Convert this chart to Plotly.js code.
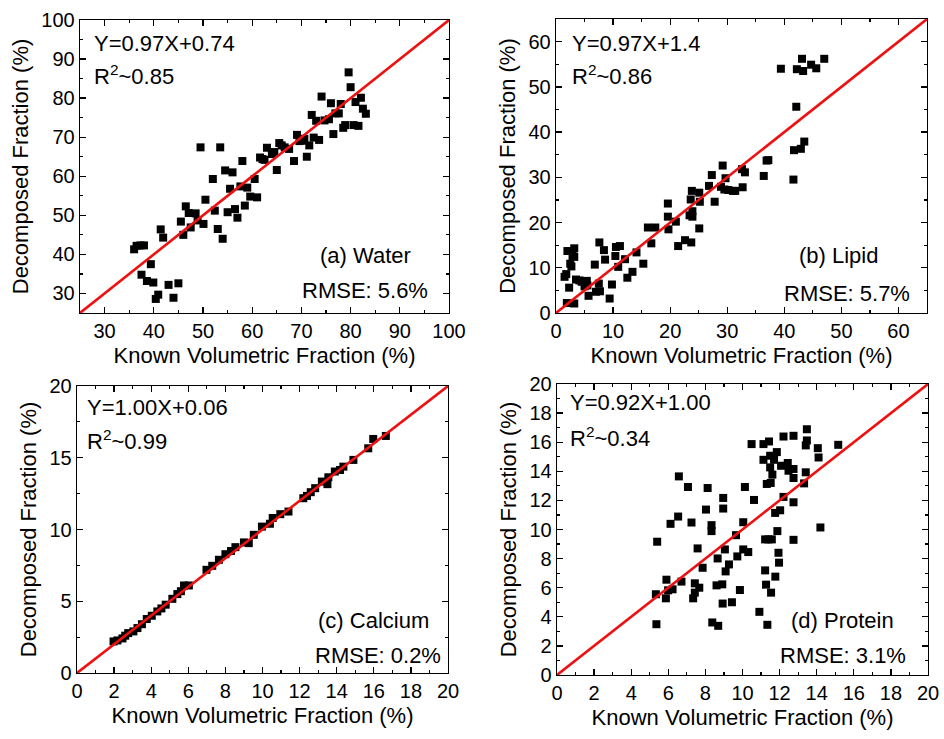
<!DOCTYPE html>
<html>
<head>
<meta charset="utf-8">
<script src="https://cdn.plot.ly/plotly-3.0.1.min.js"></script>
<style>html,body{margin:0;padding:0;background:#fff;}#chart{width:944px;height:739px;}</style>
</head>
<body>
<div id="chart"></div>
<script>
// ---------- DATA ----------
const waterKnown = [36.0,36.5,37.3,38.0,39.4,37.5,38.6,39.9,40.9,40.4,43.0,45.0,44.0,41.4,41.9,45.5,46.0,46.5,47.1,47.5,48.5,48.9,49.5,50.1,50.5,52.0,52.4,53.0,53.5,54.0,54.5,55.0,55.5,56.0,56.5,57.0,57.6,58.0,58.5,59.0,59.6,60.5,61.0,61.6,62.1,62.5,63.0,64.0,64.5,65.0,65.5,66.0,66.6,67.5,68.5,69.1,69.6,70.1,70.6,71.1,71.6,72.1,72.5,73.0,73.6,74.1,74.7,75.6,76.0,76.5,76.9,77.6,78.0,78.5,78.9,79.6,80.0,80.6,81.0,81.6,82.1,82.5,83.1];
const waterDecomp = [41.3,42.2,42.3,42.3,37.5,34.8,33.2,32.8,29.7,28.6,32.2,32.6,28.9,46.4,44.3,48.4,45.0,52.3,50.6,46.9,50.5,48.7,67.4,47.8,54.0,59.3,51.2,46.5,67.4,44.0,61.5,50.8,56.8,61.0,51.6,49.4,57.4,63.9,52.5,57.1,54.8,59.3,54.6,64.8,64.4,64.2,67.3,65.7,66.2,61.6,68.5,67.9,67.4,67.0,63.9,70.6,69.0,69.1,69.6,65.0,67.9,75.7,69.9,74.2,69.3,80.4,74.3,74.6,78.7,70.8,76.1,76.1,78.5,72.4,73.1,86.6,82.8,73.1,79.0,72.9,80.1,77.3,76.0];

const lipidKnown = [1.5,1.8,1.9,2.3,2.0,2.5,2.7,2.9,3.2,3.2,3.2,3.5,4.1,4.5,5.0,5.4,5.7,5.5,6.8,7.0,7.5,7.7,7.6,8.4,8.6,9.4,9.8,10.5,11.2,10.4,10.9,12.1,12.5,13.4,14.1,15.3,16.1,17.4,16.7,19.6,19.6,19.7,21.0,21.4,22.6,23.7,23.8,23.6,23.4,23.9,23.9,25.1,25.2,25.1,26.8,27.3,27.8,28.9,29.2,29.7,29.5,30.2,31.0,31.4,32.6,33.1,32.7,36.4,36.9,37.2,39.4,41.6,41.7,42.1,42.2,42.9,43.1,43.3,43.5,44.7,45.6,47.0];
const lipidDecomp = [8.0,8.6,2.2,5.6,13.7,10.9,10.3,12.6,14.3,12.4,2.1,7.4,7.2,6.9,5.9,7.1,3.8,6.1,10.7,4.7,6.5,4.8,15.6,13.9,11.8,3.2,6.3,14.6,14.8,12.6,10.2,11.9,7.8,9.1,13.4,10.9,18.9,18.9,15.4,24.2,21.3,18.5,20.2,14.8,16.1,15.6,27.0,25.1,21.6,21.3,22.5,26.6,24.6,18.7,28.1,30.5,24.6,27.9,32.6,29.8,27.3,27.2,27.0,27.0,31.8,31.1,27.8,30.3,33.7,33.8,54.0,29.5,36.0,45.6,53.9,36.3,56.2,53.5,37.9,54.9,54.1,56.2];

const calciumKnown = [1.97,2.18,2.45,2.6,2.76,3.04,3.26,3.5,3.76,4.03,4.33,4.55,4.78,5.14,5.41,5.6,5.77,6.03,6.98,7.29,7.65,8.0,8.3,8.54,9.0,9.26,9.53,9.97,10.4,10.55,10.96,11.4,12.2,12.4,12.6,12.84,13.2,13.5,13.55,13.9,14.18,14.36,14.9,15.7,15.97,16.65];
const calciumDecomp = [2.2,2.27,2.41,2.6,2.78,2.9,3.13,3.4,3.76,3.99,4.29,4.5,4.76,5.17,5.5,5.7,6.10,6.10,7.19,7.47,7.89,8.28,8.5,8.77,9.1,9.05,9.63,10.2,10.4,10.8,11.07,11.25,12.18,12.34,12.6,12.88,13.34,13.16,13.64,14.04,14.15,14.38,14.85,15.66,16.31,16.52];

const proteinKnown = [5.33,5.40,5.36,5.87,5.90,5.99,6.23,6.12,6.57,6.53,6.71,7.06,7.25,7.34,7.43,7.43,7.58,7.67,7.85,8.03,8.12,8.33,8.33,8.37,8.60,8.66,8.69,8.91,8.93,8.96,8.96,9.05,9.09,9.27,9.43,9.65,9.72,9.86,10.04,10.04,10.13,10.31,10.49,10.62,10.91,11.13,11.22,11.22,11.27,11.34,11.31,11.13,11.43,11.40,11.49,11.49,11.52,11.54,11.58,11.61,11.70,11.76,11.77,11.85,11.88,11.94,11.97,12.03,12.08,12.21,12.21,12.44,12.48,12.75,12.75,12.75,12.75,12.75,13.32,13.41,13.41,13.47,13.47,14.06,14.10,14.20,15.16];
const proteinDecomp = [5.55,9.16,3.49,5.27,6.55,5.82,5.89,10.39,13.65,10.89,6.42,12.92,10.48,5.27,5.66,6.30,8.70,6.00,7.37,11.37,12.85,10.30,9.89,3.61,6.16,8.01,3.38,6.23,4.91,12.17,11.44,8.63,7.12,7.60,5.00,9.61,8.15,5.84,10.50,8.63,12.92,8.45,15.87,12.03,4.34,15.87,9.32,7.19,6.21,3.45,13.13,14.79,16.05,9.32,14.27,15.07,13.20,5.66,9.32,13.77,14.79,11.14,6.76,15.32,9.89,8.40,7.72,11.32,14.38,16.39,12.24,14.57,14.04,14.16,13.54,16.44,11.87,9.29,13.17,13.93,15.78,16.89,16.12,15.59,14.95,10.14,15.82];

const panelNames = ["(a) Water","(b) Lipid","(c) Calcium","(d) Protein"];
const fitEquations = ["Y=0.97X+0.74","Y=0.97X+1.4","Y=1.00X+0.06","Y=0.92X+1.00"];
const rSquared = ["0.85","0.86","0.99","0.34"];
const rmseLabels = ["RMSE: 5.6%","RMSE: 5.7%","RMSE: 0.2%","RMSE: 3.1%"];
const axisRanges = [[25,100],[0,65],[0,20],[0,20]];
const xTickSteps = [10,10,2,2];
const yTickSteps = [10,10,5,2];
const xMinorSteps = [5,5,1,1];
const yMinorSteps = [5,5,2.5,1];

// ---------- LAYOUT ----------
const W = 944, H = 739;
const FONT = "Liberation Sans, Arial, sans-serif";
// pixel boxes [left, right, top, bottom]
const boxes = [[80,449,20,313],[556,927,19,313],[77,448,386,673],[557,928,384,675]];
const px = x => x / W;
const py = y => (H - y) / H;

const knownSets = [waterKnown, lipidKnown, calciumKnown, proteinKnown];
const decompSets = [waterDecomp, lipidDecomp, calciumDecomp, proteinDecomp];

const traces = [];
const layout = {
  width: W, height: H,
  margin: {l:0, r:0, t:0, b:0},
  paper_bgcolor: "#fff", plot_bgcolor: "#fff",
  showlegend: false,
  font: {family: FONT, size: 20, color: "#000"},
  annotations: []
};

// annotation anchor positions (pixels)
const eqLeft = [92, 570, 85, 568];
const eqY = [43, 43, 407, 403];
const r2Y = [75, 75, 440, 437];
const nameCx = [365, 838, 373, 842];
const nameY = [255, 255, 620, 620];
const rmseCx = [365, 847, 378, 843];
const rmseY = [290, 293, 655, 655];

for (let i = 0; i < 4; i++) {
  const n = i === 0 ? "" : String(i + 1);
  const [l, r, t, b] = boxes[i];
  const rng = axisRanges[i];
  const common = {
    range: rng.slice(), autorange: false, fixedrange: true,
    showgrid: false, zeroline: false,
    showline: true, linecolor: "#000", linewidth: 1.3, mirror: "ticks",
    ticks: "inside", ticklen: 6, tickwidth: 1.3, tickcolor: "#000",
    tickfont: {family: FONT, size: 20, color: "#000"},
    tick0: 0,
    title: {font: {family: FONT, size: 22, color: "#000"}}
  };
  layout["xaxis" + n] = Object.assign({}, common, {
    domain: [px(l), px(r)], anchor: "y" + n,
    dtick: xTickSteps[i],
    minor: {dtick: xMinorSteps[i], ticks: "inside", ticklen: 3, tickwidth: 1.2, tickcolor: "#000", tick0: 0},
    title: {text: "Known Volumetric Fraction (%)", font: {family: FONT, size: 22, color: "#000"}, standoff: 6}
  });
  layout["yaxis" + n] = Object.assign({}, common, {
    domain: [py(b), py(t)], anchor: "x" + n,
    dtick: yTickSteps[i],
    minor: {dtick: yMinorSteps[i], ticks: "inside", ticklen: 3, tickwidth: 1.2, tickcolor: "#000", tick0: 0},
    title: {text: "Decomposed Fraction (%)", font: {family: FONT, size: 22, color: "#000"}, standoff: 6}
  });

  traces.push({
    type: "scatter", mode: "markers",
    x: knownSets[i], y: decompSets[i],
    xaxis: "x" + n, yaxis: "y" + n,
    marker: {symbol: "square", size: 8, color: "#000"},
    cliponaxis: false, hoverinfo: "skip"
  });
  traces.push({
    type: "scatter", mode: "lines",
    x: rng.slice(), y: rng.slice(),
    xaxis: "x" + n, yaxis: "y" + n,
    line: {color: "#ee1111", width: 2.6},
    hoverinfo: "skip"
  });

  const af = {family: FONT, size: 22, color: "#000"};
  layout.annotations.push(
    {xref: "paper", yref: "paper", x: px(eqLeft[i]), y: py(eqY[i]), xanchor: "left", yanchor: "middle",
     text: fitEquations[i], showarrow: false, font: af},
    {xref: "paper", yref: "paper", x: px(eqLeft[i]), y: py(r2Y[i]), xanchor: "left", yanchor: "middle",
     text: "R<sup>2</sup>~" + rSquared[i], showarrow: false, font: af},
    {xref: "paper", yref: "paper", x: px(nameCx[i]), y: py(nameY[i]), xanchor: "center", yanchor: "middle",
     text: panelNames[i], showarrow: false, font: af},
    {xref: "paper", yref: "paper", x: px(rmseCx[i]), y: py(rmseY[i]), xanchor: "center", yanchor: "middle",
     text: rmseLabels[i], showarrow: false, font: af}
  );
}

Plotly.newPlot("chart", traces, layout, {staticPlot: true, displayModeBar: false});
</script>
</body>
</html>
